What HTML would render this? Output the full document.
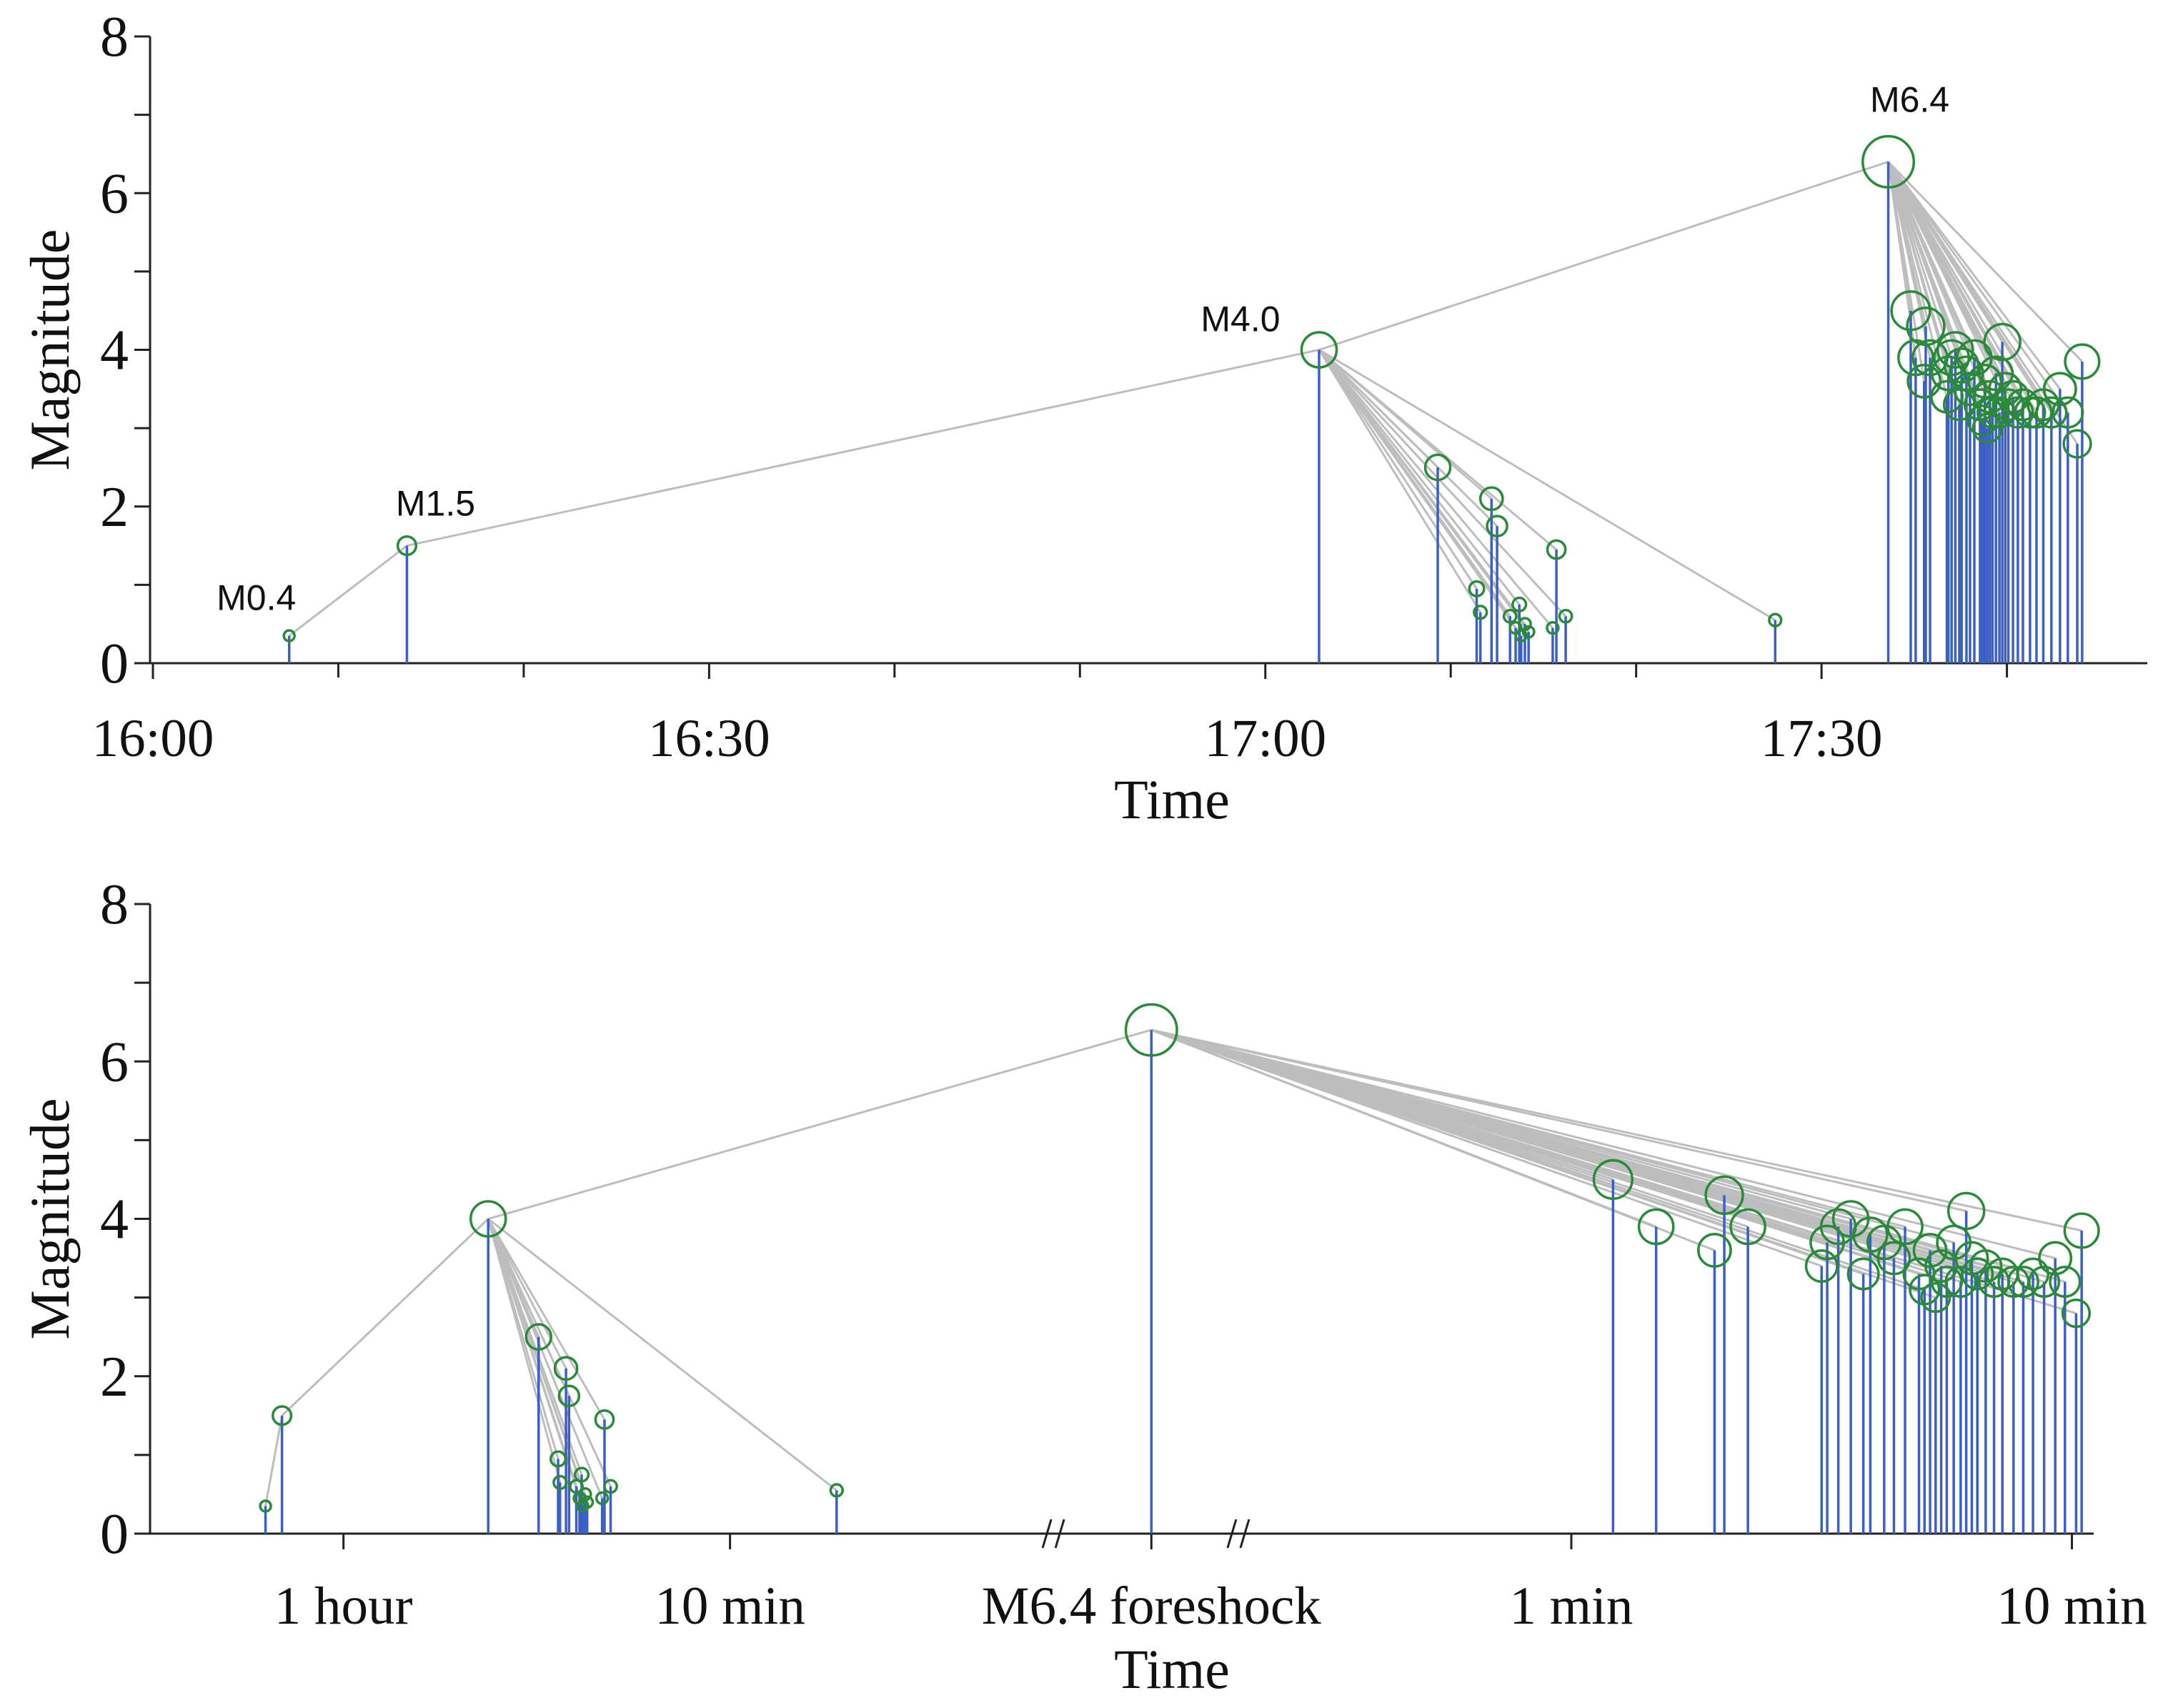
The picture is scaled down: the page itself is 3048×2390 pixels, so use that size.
<!DOCTYPE html>
<html><head><meta charset="utf-8"><style>
html,body{margin:0;padding:0;background:#fff}
svg{display:block}
.tk{font-family:"Liberation Serif",serif;font-size:75px;fill:#111}
.ttl{font-family:"Liberation Serif",serif;font-size:78px;fill:#111}
.ann{font-family:"Liberation Sans",sans-serif;font-size:50px;fill:#111}
</style></head><body>
<svg id="chart" width="3048" height="2390" viewBox="0 0 3048 2390" xmlns="http://www.w3.org/2000/svg">
<g id="top"></g>
<g id="bot"></g>
</svg>
<script>
// Events: minutes after 16:00 and magnitudes
const preTimes=[7.35,13.7];
const preMags=[0.35,1.5];
const m4Time=62.9, m4Mag=4.0;
const fsTimes=[69.3,71.4,71.6,72.2,72.5,73.2,73.5,73.7,73.8,74.0,74.2,75.5,75.7,76.2,87.5];
const fsMags=[2.5,0.95,0.65,2.1,1.75,0.6,0.45,0.75,0.35,0.5,0.4,0.45,1.45,0.6,0.55];
const mainTime=93.6, mainMag=6.4;
// aftershocks: minutes after M6.4
const asPix=[1160,1191,1233,1240,1257,1310,1314,1322,1331,1340,1345,1355,1362,1370,1380,1384,1388,1392,1396,1400,1405,1410,1414,1418,1422,1428,1434,1440,1448,1455,1462,1470,1478,1485,1493,1497];
const asDt=asPix.map(p=>Math.pow(10,(p-1130)/360));
const asMags=[4.5,3.9,3.6,4.3,3.9,3.4,3.7,3.9,4.0,3.3,3.8,3.7,3.5,3.9,3.3,3.1,3.6,3.0,3.4,3.2,3.7,3.2,4.1,3.5,3.3,3.4,3.2,3.3,3.2,3.2,3.3,3.2,3.5,3.2,2.8,3.85];
const topTicks=[0,30,60,90];
const topTickLabels=["16:00","16:30","17:00","17:30"];
const botTickLabels=["1 hour","10 min","M6.4 foreshock","1 min","10 min"];
const yTicks=[0,2,4,6,8];

const S=1.946, NS="http://www.w3.org/2000/svg";
function mk(parent,tag,attrs){const e=document.createElementNS(NS,tag);for(const k in attrs)e.setAttribute(k,attrs[k]);parent.appendChild(e);return e;}
function rad(m){return (3+2.4*m)*S;}

function panel(g,y0,y8,xl,xr,xfun,ticks,labelY,titleY,breaks){
  const yS=m=>y0+(y8-y0)*m/8;
  let e=mk(g,'line',{x1:xl,y1:y0,x2:xr,y2:y0,stroke:'#222','stroke-width':3});
  
  e=mk(g,'line',{x1:xl,y1:y0,x2:xl,y2:y8,stroke:'#222','stroke-width':3});
  
  for(let m=0;m<=8;m++){
    e=mk(g,'line',{x1:xl-22,y1:yS(m),x2:xl,y2:yS(m),stroke:'#222','stroke-width':3});
    
  }
  yTicks.forEach(v=>{
    const t=mk(g,'text',{x:xl-30,y:yS(v)+27,'text-anchor':'end',class:'tk',style:'font-size:80px'});t.textContent=v;
    
  });
  ticks.forEach((x,i)=>{
    if(x.minor){e=mk(g,'line',{x1:x.x,y1:y0,x2:x.x,y2:y0+20,stroke:'#222','stroke-width':3});return;}
    e=mk(g,'line',{x1:x.x,y1:y0,x2:x.x,y2:y0+22,stroke:'#222','stroke-width':3});
    
    const t=mk(g,'text',{x:x.x,y:labelY,'text-anchor':'middle',class:'tk'});t.textContent=x.label;
    
  });
  (breaks||[]).forEach(bx=>{
    const bg=mk(g,'g',{});
    mk(bg,'line',{x1:bx-14,y1:y0+20,x2:bx-2,y2:y0-20,stroke:'#222','stroke-width':3});
    mk(bg,'line',{x1:bx+4,y1:y0+20,x2:bx+16,y2:y0-20,stroke:'#222','stroke-width':3});
  });
  let t=mk(g,'text',{x:1640,y:titleY,'text-anchor':'middle',class:'ttl'});t.textContent='Time';
  
  const cy=(y0+y8)/2;
  t=mk(g,'text',{x:0,y:0,'text-anchor':'middle',class:'ttl',transform:`translate(96,${cy}) rotate(-90)`});t.textContent='Magnitude';
  

  const ev=[];
  preTimes.forEach((tm,i)=>ev.push({x:xfun(tm),m:preMags[i]}));
  const p4={x:xfun(m4Time),m:m4Mag};
  const fs=fsTimes.map((tm,i)=>({x:xfun(tm),m:fsMags[i]}));
  const pm={x:xfun(mainTime),m:mainMag};
  const as=asDt.map((d,i)=>({x:xfun(mainTime+d,d),m:asMags[i]}));
  const lg=mk(g,'g',{stroke:'#bdbdbd','stroke-width':3,fill:'none'});
  
  const chain=[ev[0],ev[1],p4,pm];
  for(let i=0;i<chain.length-1;i++)mk(lg,'line',{x1:chain[i].x,y1:yS(chain[i].m),x2:chain[i+1].x,y2:yS(chain[i+1].m)});
  fs.forEach(p=>mk(lg,'line',{x1:p4.x,y1:yS(p4.m),x2:p.x,y2:yS(p.m)}));
  as.forEach(p=>mk(lg,'line',{x1:pm.x,y1:yS(pm.m),x2:p.x,y2:yS(p.m)}));
  const all=[...ev,p4,...fs,pm,...as];
  all.forEach(p=>{
    const s=mk(g,'line',{x1:p.x,y1:y0,x2:p.x,y2:yS(p.m),stroke:'#3b5fc4','stroke-width':3.5});
    
  });
  all.forEach(p=>{
    const c=mk(g,'circle',{cx:p.x,cy:yS(p.m),r:rad(p.m),fill:'none',stroke:'#2a8a3a','stroke-width':3.5});
    
  });
  return {ev,p4,pm,yS};
}

const tX=tm=>214+tm*13.333*S;
const tt=[];
for(let m=0;m<=100;m+=10){const lbl=topTicks.indexOf(m);tt.push(lbl>=0?{x:tX(m),label:topTickLabels[lbl]}:{x:tX(m),minor:true});}
const topG=document.getElementById('top');
const r=panel(topG,928,51,210,3005,tX,tt,1058,1145);
[["M0.4",r.ev[0],-46,-36],["M1.5",r.ev[1],40,-42],["M4.0",r.p4,-110,-26],["M6.4",r.pm,30,-70]].forEach(a=>{
  const t=document.createElementNS(NS,'text');
  t.setAttribute('x',a[1].x+a[2]);t.setAttribute('y',r.yS(a[1].m)+a[3]);t.setAttribute('text-anchor','middle');t.setAttribute('class','ann');
  t.textContent=a[0];
  
  
  topG.appendChild(t);
});

const bX=(tm,d)=>{
  const dt=mainTime-tm;
  if(Math.abs(dt)<1e-9)return 828*S;
  if(dt>0)return (525-357*Math.log10(dt/10))*S;
  return (1130+360*Math.log10(d))*S;
};
const bt=[{x:247*S,label:botTickLabels[0]},{x:525*S,label:botTickLabels[1]},{x:828*S,label:botTickLabels[2]},{x:1130*S,label:botTickLabels[3]},{x:1490*S,label:botTickLabels[4]}];
panel(document.getElementById('bot'),2146,1265,210,2930,bX,bt,2272,2362,[757*S,890*S]);
</script>
</body></html>
